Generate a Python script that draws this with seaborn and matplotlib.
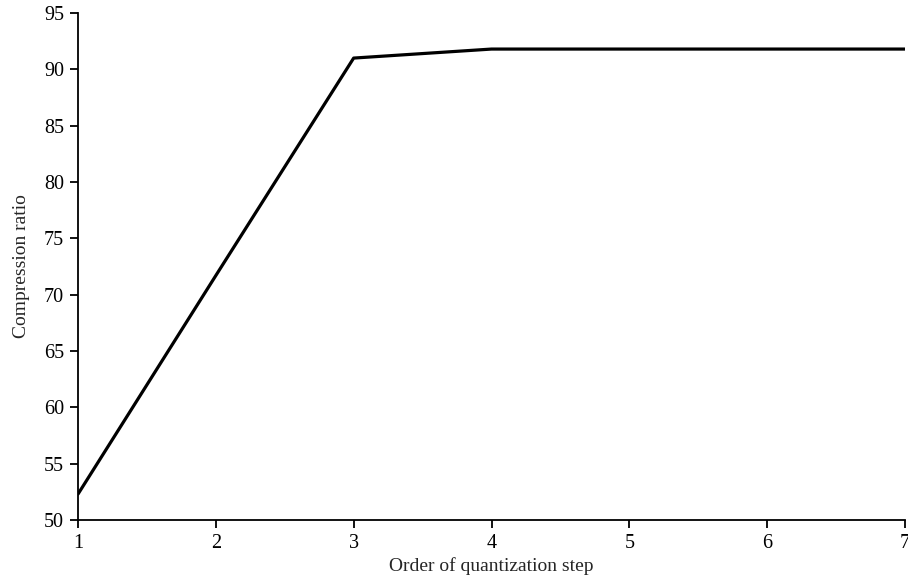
import matplotlib
matplotlib.use("Agg")
import matplotlib.pyplot as plt
import seaborn as sns
import pandas as pd

order = [1, 2, 3, 4, 5, 6, 7]
ratio = [52.3, 71.7, 91.0, 91.8, 91.8, 91.8, 91.8]

sns.set_theme(style="ticks")
plt.rcParams['font.family'] = ['Liberation Serif', 'DejaVu Serif']

df = pd.DataFrame({"order": order, "ratio": ratio})

fig = plt.figure(figsize=(9.08, 5.78), dpi=100)
ax = fig.add_axes([0.0859, 0.1003, 0.9108, 0.8772])
sns.lineplot(data=df, x="order", y="ratio", color="black", linewidth=2.3, ax=ax)

ax.set_xlim(1, 7)
ax.set_ylim(50, 95)
ax.set_xticks(range(1, 8))
ax.set_yticks(range(50, 96, 5))
ax.set_xlabel("Order of quantization step", fontsize=14, labelpad=3)
ax.set_ylabel("Compression ratio", fontsize=14, labelpad=10)
ax.tick_params(axis="both", labelsize=14.5, length=6, width=1.3, colors="black", pad=4)
for s in ["top", "right"]:
    ax.spines[s].set_visible(False)
for s in ["left", "bottom"]:
    ax.spines[s].set_linewidth(1.3)
    ax.spines[s].set_color("black")

fig.savefig("out.png", dpi=100)
